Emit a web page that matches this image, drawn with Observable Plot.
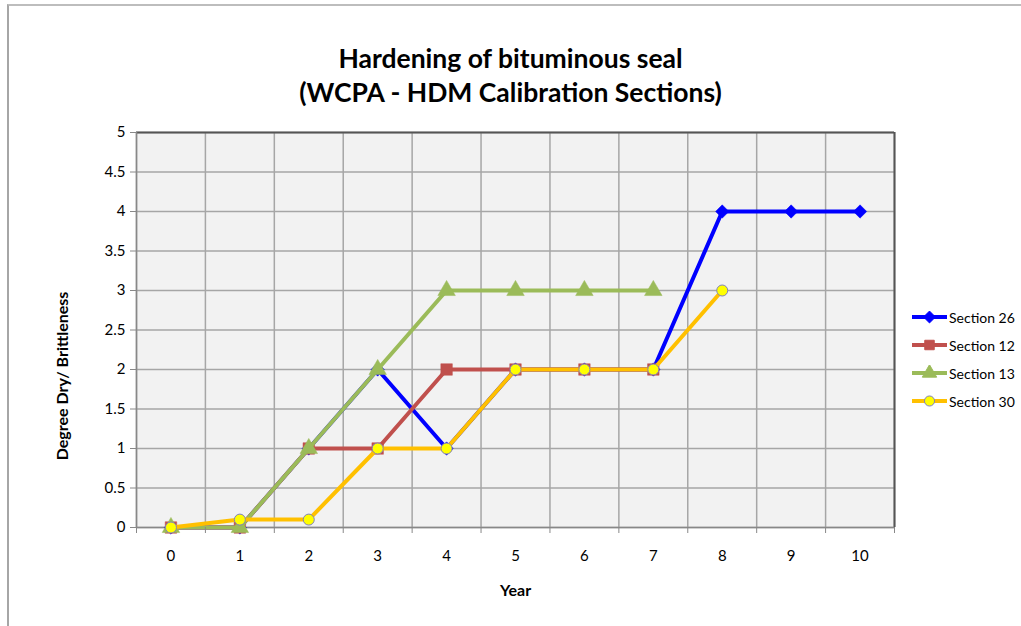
<!DOCTYPE html>
<html><head><meta charset="utf-8">
<script src="https://cdn.jsdelivr.net/npm/d3@7"></script>
<script src="https://cdn.jsdelivr.net/npm/@observablehq/plot@0.6"></script>
<style>
body{margin:0;background:#fff;font-family:Lato,"Open Sans",sans-serif;}
#page{position:relative;width:1021px;height:626px;overflow:hidden;}
#border{position:absolute;left:7px;top:4px;width:1020px;height:640px;border-left:2px solid #a6a6a6;border-top:2px solid #bdbdbd;}
#title{position:absolute;left:0;top:41px;width:1021px;text-align:center;font-weight:bold;font-size:26.5px;line-height:34px;color:#000;}
#chart{position:absolute;left:0;top:115px;}
#chart svg text{font-size:15px !important;}
#chart svg g.yearlab text{font-size:16px !important;}
#ylab{position:absolute;left:61px;top:376px;transform:translate(-50%,-50%) rotate(-90deg);font-weight:bold;font-size:16px;white-space:nowrap;}
#legend{position:absolute;left:912px;top:303px;font-size:14px;}
.li{height:28px;display:flex;align-items:center;}
.li svg{margin-right:2px;}
</style></head>
<body><div id="page"><div id="border"></div>
<div id="title">Hardening of bituminous seal<br>(WCPA - HDM Calibration Sections)</div>
<div id="chart"></div>
<div id="ylab">Degree Dry/ Brittleness</div>
<div id="legend"></div>
</div>
<script>
const years = [0,1,2,3,4,5,6,7,8,9,10];
const seriesNames = ["Section 26","Section 12","Section 13","Section 30"];
const section26 = [0,0,1,2,1,2,2,2,4,4,4];
const section12 = [0,0,1,1,2,2,2,2];
const section13 = [0,0,1,2,3,3,3,3];
const section30 = [0,0.1,0.1,1,1,2,2,2,3];
const yTicks = [0,0.5,1,1.5,2,2.5,3,3.5,4,4.5,5];
const colors = ["#0000ff","#c0504d","#9bbb59","#ffc000"];
const symbols = ["diamond2","square","triangle","circle"];
const markerFill = ["#0000ff","#c0504d","#9bbb59","#ffff00"];
const markerStroke = ["#0000ff","#c0504d","#9bbb59","#7f7fbf"];
const markerR = [6,6.5,6.5,5.5];

const allSeries = [section26,section12,section13,section30];
const rows = [];
allSeries.forEach((vals,si)=>vals.forEach((v,i)=>rows.push({series:seriesNames[si],si,year:years[i],value:v})));

const edges = years.map(y=>y-0.5).concat([years[years.length-1]+0.5]);

const marks = [
  Plot.frame({fill:"#f2f2f2"}),
  Plot.ruleX(edges,{stroke:"#a6a6a6",strokeWidth:1.5}),
  Plot.ruleY(yTicks,{stroke:"#a6a6a6",strokeWidth:1.5}),
  Plot.ruleY([5],{stroke:"#555",strokeWidth:2}),
  Plot.ruleX([10.5],{stroke:"#555",strokeWidth:2}),
  Plot.ruleY([0],{stroke:"#888",strokeWidth:1.5}),
  Plot.ruleX([-0.5],{stroke:"#888",strokeWidth:1.5}),
];
seriesNames.forEach((name,si)=>{
  const d = rows.filter(r=>r.si===si);
  marks.push(Plot.line(d,{x:"year",y:"value",stroke:colors[si],strokeWidth:4}));
  marks.push(Plot.dot(d,{x:"year",y:"value",symbol:()=>symbols[si],fill:markerFill[si],stroke:markerStroke[si],strokeWidth:si===3?1:0.5,r:markerR[si]}));
});

const chart = Plot.plot({
  width:1021,height:511,
  marginLeft:136,marginRight:127,marginTop:17,marginBottom:99,
  style:{fontFamily:"Lato, 'Open Sans', sans-serif",fontSize:"15px",background:"transparent",color:"#000"},
  x:{domain:[-0.5,10.5],label:null},
  y:{domain:[0,5],label:null},
  symbol:{type:"identity"},
  marks:[
    ...marks,
    Plot.axisX(edges,{tickSize:6,tickFormat:()=>"",stroke:"#888",label:null}),
    Plot.axisX(years,{tickSize:0,tickPadding:23,label:null}),
    Plot.axisY(yTicks,{tickSize:6,stroke:"#888",tickPadding:5,tickFormat:d=>String(d),label:null}),
    Plot.text(["Year"],{frameAnchor:"bottom",dy:68,fontWeight:"bold",className:"yearlab"})
  ]
});
document.getElementById("chart").appendChild(chart);

const leg = document.getElementById("legend");
seriesNames.forEach((name,si)=>{
  const div=document.createElement("div");div.className="li";
  const sym = d3.symbol(si===0?d3.symbolDiamond2:si===1?d3.symbolSquare:si===2?d3.symbolTriangle:d3.symbolCircle, si===3?80:90)();
  div.innerHTML=`<svg width="35" height="16"><line x1="0" x2="35" y1="8" y2="8" stroke="${colors[si]}" stroke-width="4"/><path transform="translate(17.5,8)" d="${sym}" fill="${markerFill[si]}" stroke="${markerStroke[si]}"/></svg><span>${name}</span>`;
  leg.appendChild(div);
});
</script></body></html>
